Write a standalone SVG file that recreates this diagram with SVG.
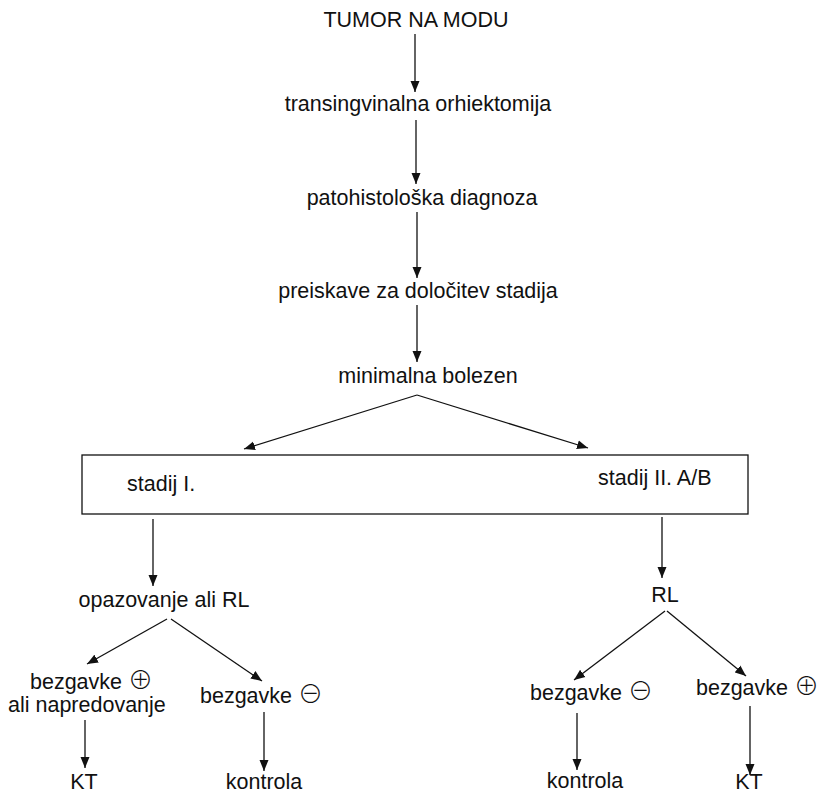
<svg xmlns="http://www.w3.org/2000/svg" width="823" height="795" viewBox="0 0 823 795">
<style>
text{font-family:"Liberation Sans",Arial,sans-serif;font-size:21.5px;fill:#111}
.c{text-anchor:middle}
.sym{font-family:"Noto Sans CJK JP","DejaVu Sans",sans-serif;font-size:25px;font-weight:300}
.ln{stroke:#111;stroke-width:1.3;fill:none;marker-end:url(#ah)}
.box{fill:#fff;stroke:#111;stroke-width:1.3}
</style>
<defs>
<marker id="ah" markerWidth="12" markerHeight="10" refX="11" refY="5" orient="auto" markerUnits="userSpaceOnUse">
<path d="M0,0.5 L11,5 L0,9.5 Z" fill="#111"/>
</marker>
</defs>
<rect width="823" height="795" fill="#fff"/>
<g id="connectors">
<line class="ln" x1="415" y1="34" x2="415" y2="92"/>
<line class="ln" x1="416" y1="120" x2="416" y2="184"/>
<line class="ln" x1="417" y1="212" x2="417" y2="278"/>
<line class="ln" x1="417" y1="305" x2="417" y2="362"/>
<line class="ln" x1="417" y1="395" x2="244" y2="449"/>
<line class="ln" x1="417" y1="395" x2="588" y2="448"/>
<line class="ln" x1="153" y1="519" x2="153" y2="586"/>
<line class="ln" x1="662" y1="517" x2="662" y2="578"/>
<line class="ln" x1="167" y1="619" x2="87" y2="664"/>
<line class="ln" x1="171" y1="619" x2="262" y2="681"/>
<line class="ln" x1="665" y1="611" x2="574" y2="680"/>
<line class="ln" x1="667" y1="611" x2="746" y2="676"/>
<line class="ln" x1="85" y1="720" x2="85" y2="768"/>
<line class="ln" x1="264" y1="712" x2="264" y2="771"/>
<line class="ln" x1="577" y1="713" x2="577" y2="770"/>
<line class="ln" x1="750" y1="706" x2="750" y2="775"/>
</g>
<g id="n-tumor"><text class="c" x="416" y="27">TUMOR NA MODU</text></g>
<g id="n-orhiektomija"><text class="c" x="418" y="111">transingvinalna orhiektomija</text></g>
<g id="n-diagnoza"><text class="c" x="422" y="205">patohistološka diagnoza</text></g>
<g id="n-preiskave"><text class="c" x="418" y="298">preiskave za določitev stadija</text></g>
<g id="n-minimalna"><text class="c" x="428" y="383">minimalna bolezen</text></g>
<g id="n-stadij">
<rect class="box" x="82" y="455" width="666" height="59"/>
<text x="127" y="491">stadij I.</text>
<text x="598" y="485">stadij II. A/B</text>
</g>
<g id="n-opazovanje"><text class="c" x="164" y="607">opazovanje ali RL</text></g>
<g id="n-rl"><text class="c" x="665" y="602">RL</text></g>
<g id="n-bezg-plus-l">
<text x="30" y="689">bezgavke <tspan class="sym">⊕</tspan><tspan x="8" y="712">ali napredovanje</tspan></text>
</g>
<g id="n-bezg-minus-l"><text x="200" y="703">bezgavke <tspan class="sym">⊖</tspan></text></g>
<g id="n-bezg-minus-r"><text x="530" y="700">bezgavke <tspan class="sym">⊖</tspan></text></g>
<g id="n-bezg-plus-r"><text x="696" y="695">bezgavke <tspan class="sym">⊕</tspan></text></g>
<g id="n-kt-l"><text class="c" x="84" y="789">KT</text></g>
<g id="n-kontrola-l"><text class="c" x="264" y="789">kontrola</text></g>
<g id="n-kontrola-r"><text class="c" x="585" y="788">kontrola</text></g>
<g id="n-kt-r"><text class="c" x="749" y="789">KT</text></g>
</svg>
